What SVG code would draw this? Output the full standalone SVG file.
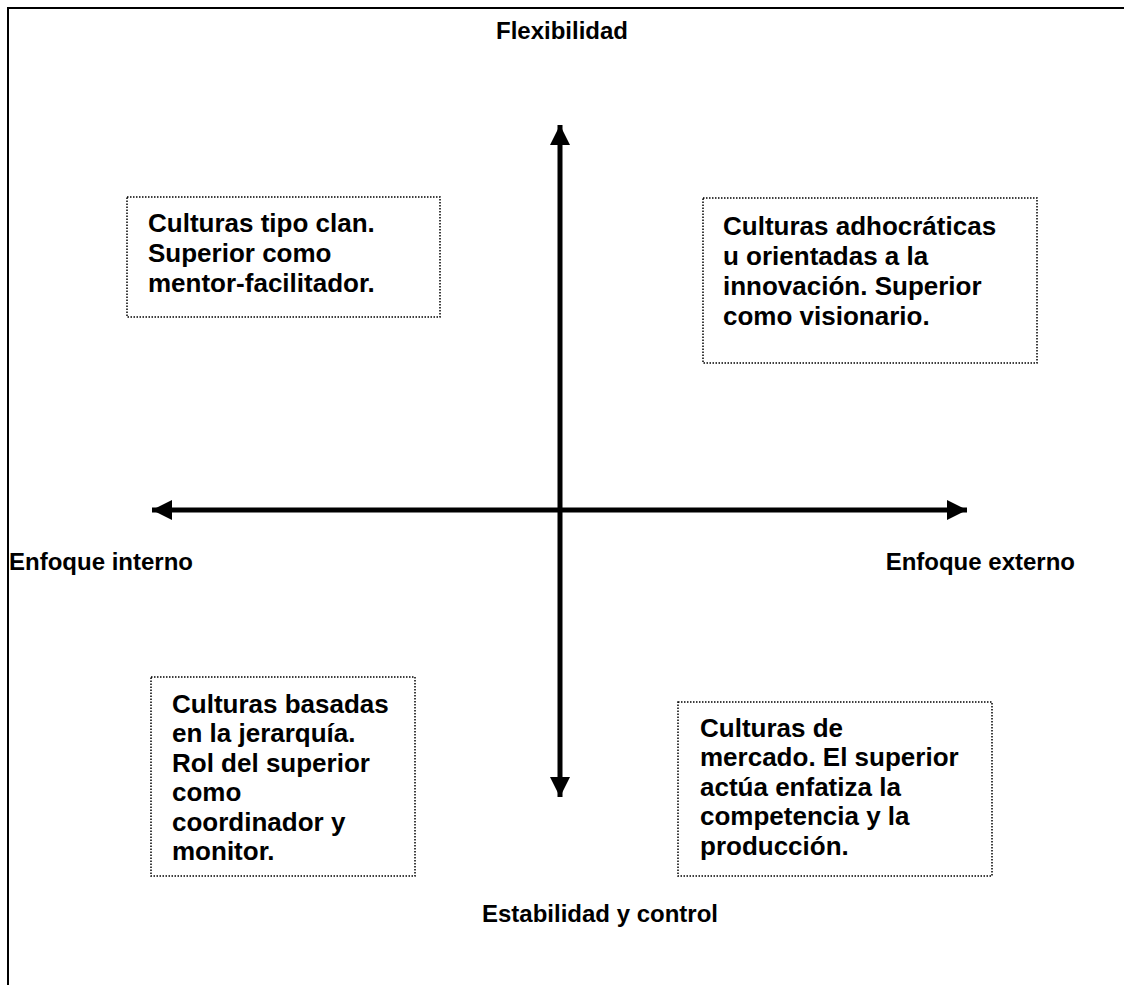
<svg xmlns="http://www.w3.org/2000/svg" width="1124" height="985" viewBox="0 0 1124 985">
<style>
text{font-family:"Liberation Sans",Arial,sans-serif;font-weight:bold;fill:#000}
.lbl{font-size:24px}
.bx{font-size:26px}
.box{fill:#fff;stroke:#000;stroke-width:1.5;stroke-dasharray:1.5 1.5}
.axis{stroke:#000;stroke-width:5;fill:none}
</style>
<defs>
<marker id="ah" markerUnits="userSpaceOnUse" markerWidth="20" markerHeight="20" refX="18" refY="9" orient="auto-start-reverse" viewBox="0 0 18 18">
<path d="M0,0 L18,9 L0,18 Z" fill="#000"/>
</marker>
</defs>
<rect x="0" y="0" width="1124" height="985" fill="#fff"/>
<g id="frame">
<path d="M8,985 L8,8 L1124,8" fill="none" stroke="#000" stroke-width="2"/>
</g>
<g id="connectors">
<line class="axis" x1="560" y1="125" x2="560" y2="797" marker-start="url(#ah)" marker-end="url(#ah)"/>
<line class="axis" x1="152" y1="510" x2="967" y2="510" marker-start="url(#ah)" marker-end="url(#ah)"/>
</g>
<g id="label-flexibilidad"><text class="lbl" x="562" y="39" text-anchor="middle">Flexibilidad</text></g>
<g id="label-interno"><text class="lbl" x="9" y="570">Enfoque interno</text></g>
<g id="label-externo"><text class="lbl" x="1075" y="570" text-anchor="end">Enfoque externo</text></g>
<g id="label-estabilidad"><text class="lbl" x="600" y="922" text-anchor="middle">Estabilidad y control</text></g>
<g id="box-clan">
<rect class="box" x="127" y="197" width="313" height="120"/>
<text class="bx" x="148" y="232">Culturas tipo clan.</text>
<text class="bx" x="148" y="262">Superior como</text>
<text class="bx" x="148" y="292">mentor-facilitador.</text>
</g>
<g id="box-adhocratica">
<rect class="box" x="703" y="198" width="334" height="165"/>
<text class="bx" x="723" y="235">Culturas adhocráticas</text>
<text class="bx" x="723" y="265">u orientadas a la</text>
<text class="bx" x="723" y="295">innovación. Superior</text>
<text class="bx" x="723" y="325">como visionario.</text>
</g>
<g id="box-jerarquia">
<rect class="box" x="151" y="677" width="264" height="199"/>
<text class="bx" x="172" y="713">Culturas basadas</text>
<text class="bx" x="172" y="742">en la jerarquía.</text>
<text class="bx" x="172" y="772">Rol del superior</text>
<text class="bx" x="172" y="801">como</text>
<text class="bx" x="172" y="831">coordinador y</text>
<text class="bx" x="172" y="860">monitor.</text>
</g>
<g id="box-mercado">
<rect class="box" x="678" y="702" width="314" height="174"/>
<text class="bx" x="700" y="737">Culturas de</text>
<text class="bx" x="700" y="766">mercado. El superior</text>
<text class="bx" x="700" y="796">actúa enfatiza la</text>
<text class="bx" x="700" y="825">competencia y la</text>
<text class="bx" x="700" y="855">producción.</text>
</g>
</svg>
